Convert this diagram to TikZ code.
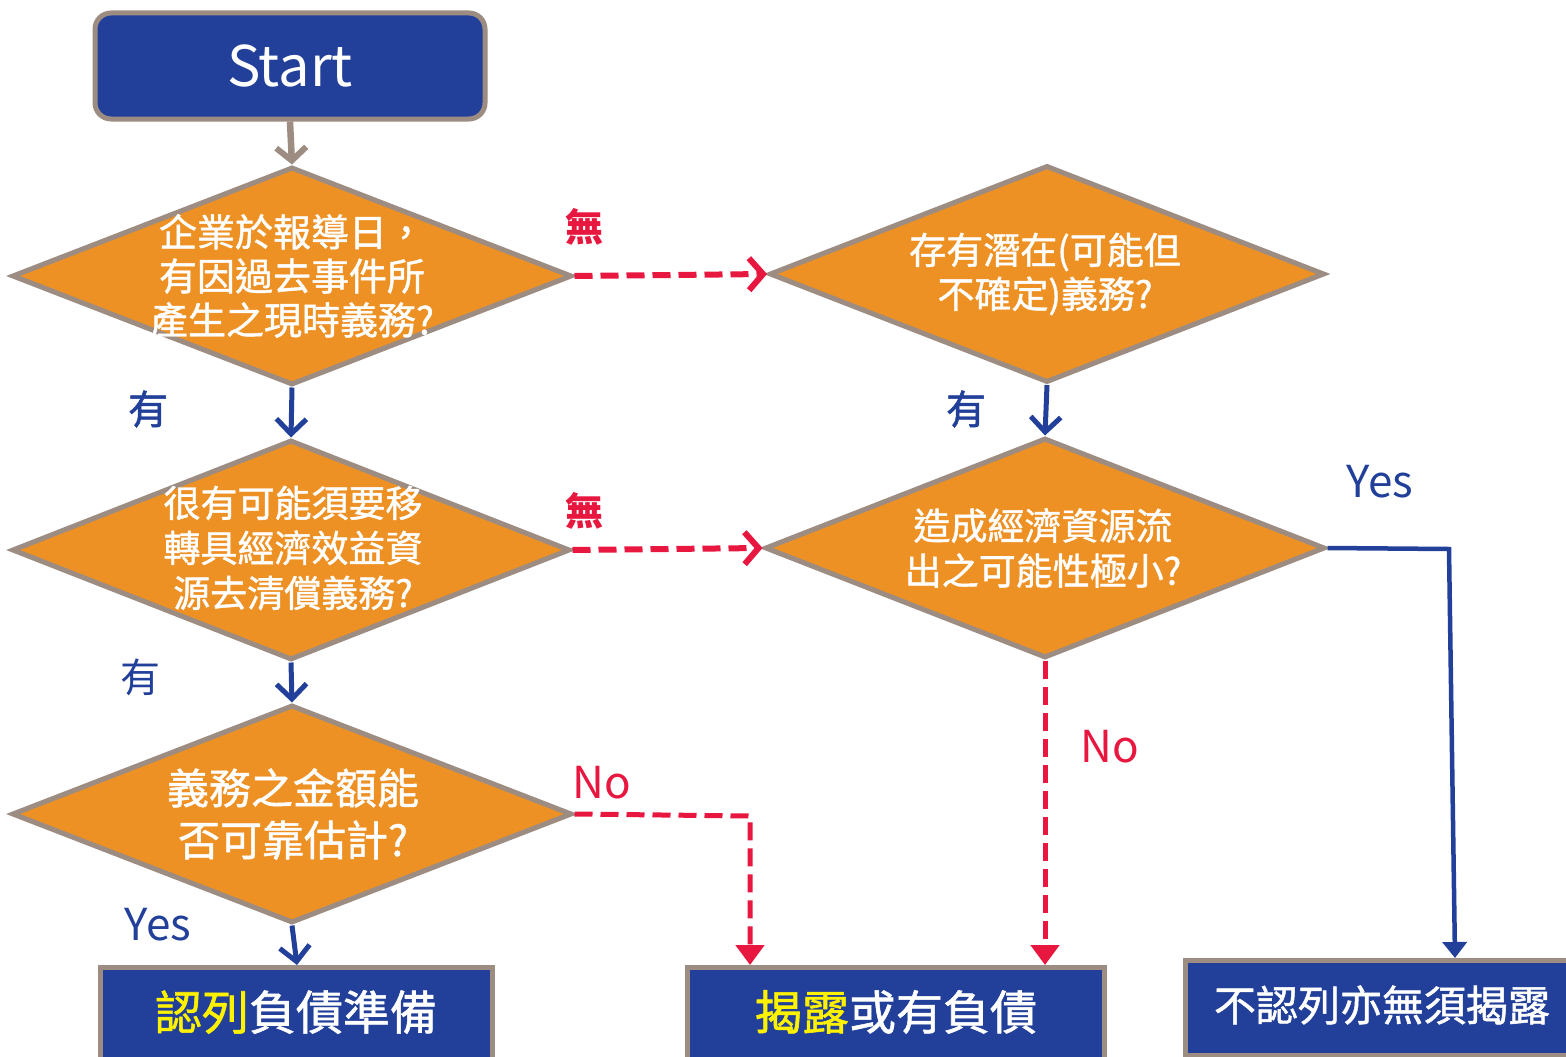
\documentclass[tikz,border=0pt]{standalone}
\usepackage{fontspec}
\setmainfont{Noto Sans CJK TC}
\newfontfamily\cjkmed[FakeBold=1.2]{Noto Sans CJK TC}
\usetikzlibrary{arrows.meta,shapes.geometric}
\definecolor{fblue}{HTML}{22409A}
\definecolor{forange}{HTML}{EE9124}
\definecolor{fgray}{HTML}{9C8C82}
\definecolor{fred}{HTML}{E8173F}
\definecolor{fyellow}{HTML}{FFF200}
\begin{document}
\begin{tikzpicture}[x=1pt,y=-1pt,
  dia/.style 2 args={diamond, draw=fgray, fill=forange, line width=5pt, inner sep=0pt,
     minimum width=#1, minimum height=#2},
  boxstyle/.style={draw=fgray, fill=fblue, line width=5pt, inner sep=0pt},
  dtext/.style={text=white, align=center, inner sep=0pt},
  btext/.style={text=white, inner sep=0pt},
  grayarrow/.style={draw=fgray, line width=6.5pt, -{Straight Barb[length=13pt,width=30pt,line width=6pt]}},
  bluearrow/.style={draw=fblue, line width=5pt, -{Straight Barb[length=15pt,width=30pt,line width=5pt]}},
  bluetri/.style={draw=fblue, line width=4.5pt, -{Triangle[length=16pt,width=24pt]}},
  reddash/.style={draw=fred, line width=6pt, dash pattern=on 18pt off 8pt, -{Straight Barb[length=14pt,width=32pt,line width=6pt]}},
  reddashtri/.style={draw=fred, line width=5pt, dash pattern=on 18pt off 8pt, -{Triangle[length=20pt,width=28pt]}},
  redlab/.style={text=fred, inner sep=0pt},
  bluelab/.style={text=fblue, inner sep=0pt}
]
\fill[white] (0,0) rectangle (1566,1057);
\useasboundingbox (0,0) rectangle (1566,1057);

% start
\node[boxstyle, rounded corners=16pt, minimum width=390pt, minimum height=106pt] (start) at (290,66) {};
\node[btext, font=\fontsize{56}{60}\selectfont] (startt) at (290,66) {Start};

% diamonds
\node[dia={560pt}{218pt}] (d1) at (292,276) {};
\node[dtext, font=\cjkmed\fontsize{38}{44}\selectfont] (d1t) at (292,276) {企業於報導日，\\有因過去事件所\\產生之現時義務?};

\node[dia={555pt}{217pt}] (d2) at (1047,274) {};
\node[dtext, font=\cjkmed\fontsize{37}{44}\selectfont] (d2t) at (1045,274) {存有潛在(可能但\\不確定)義務?};

\node[dia={558pt}{220pt}] (d3) at (291,550) {};
\node[dtext, font=\cjkmed\fontsize{37}{45}\selectfont] (d3t) at (293,548) {很有可能須要移\\轉具經濟效益資\\源去清償義務?};

\node[dia={560pt}{220pt}] (d4) at (1045,548) {};
\node[dtext, font=\cjkmed\fontsize{37}{45}\selectfont] (d4t) at (1043,548) {造成經濟資源流\\出之可能性極小?};

\node[dia={560pt}{218pt}] (d5) at (292,814) {};
\node[dtext, font=\cjkmed\fontsize{42}{52}\selectfont] (d5t) at (293,814) {義務之金額能\\否可靠估計?};

% result boxes
\node[boxstyle, minimum width=392pt, minimum height=120pt, anchor=north] (b1) at (296,965) {};
\node[btext, font=\cjkmed\fontsize{47}{50}\selectfont] (b1t) at (296,1012) {\textcolor{fyellow}{認列}負債準備};

\node[boxstyle, minimum width=417pt, minimum height=120pt, anchor=north] (b2) at (895.5,965) {};
\node[btext, font=\cjkmed\fontsize{47}{50}\selectfont] (b2t) at (896,1012) {\textcolor{fyellow}{揭露}或有負債};

\node[boxstyle, minimum width=400pt, minimum height=95pt, anchor=north] (b3) at (1385,958) {};
\node[btext, font=\cjkmed\fontsize{42}{46}\selectfont] (b3t) at (1382,1005) {不認列亦無須揭露};

% connectors
\draw[grayarrow] (start.south) -- (d1.north);
\draw[reddash] (d1.east) -- (d2.west);
\draw[bluearrow] (d1.south) -- (d3.north);
\draw[bluearrow] (d2.south) -- (d4.north);
\draw[reddash] (d3.east) -- (d4.west);
\draw[bluearrow] (d3.south) -- (d5.north);
\draw[bluearrow] (d5.south) -- ([xshift=1pt]b1.north);
\coordinate (c5) at (750,816);
\draw[reddashtri] (d5.east) -- (c5) -- (c5 |- b2.north);
\draw[reddashtri] (d4.south) -- (d4.south |- b2.north);
\coordinate (c4) at (1449,549);
\coordinate (c4e) at (1455,958);
\draw[bluetri] (d4.east) -- (c4) -- (c4e);

% labels
\node[redlab, font=\fontsize{38}{40}\selectfont\bfseries] (l1) at (584,227) {無};
\node[redlab, font=\fontsize{38}{40}\selectfont\bfseries] (l2) at (584,511) {無};
\node[bluelab, font=\cjkmed\fontsize{40}{42}\selectfont] (l3) at (148,409) {有};
\node[bluelab, font=\cjkmed\fontsize{40}{42}\selectfont] (l4) at (966,409) {有};
\node[bluelab, font=\fontsize{40}{42}\selectfont] (l5) at (140,677) {有};
\node[bluelab, font=\fontsize{44}{46}\selectfont] (l6) at (158,925) {Yes};
\node[redlab, font=\fontsize{44}{46}\selectfont] (l7) at (602,783) {No};
\node[redlab, font=\fontsize{44}{46}\selectfont] (l8) at (1110,747) {No};
\node[bluelab, font=\fontsize{44}{46}\selectfont] (l9) at (1380,482) {Yes};
\end{tikzpicture}
\end{document}
